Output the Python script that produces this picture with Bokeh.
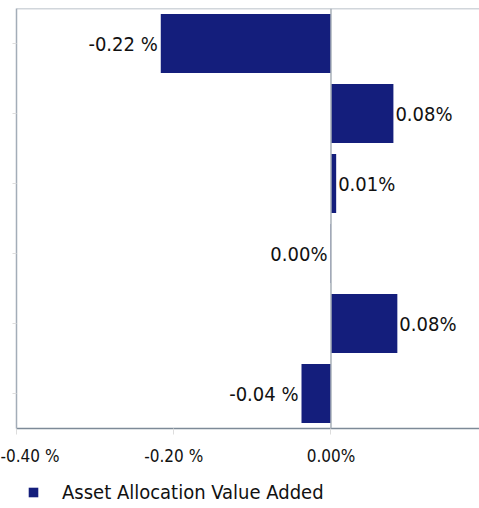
from bokeh.plotting import figure
from bokeh.layouts import column
from bokeh.models import (ColumnDataSource, FixedTicker, Range1d, Legend, LegendItem, Span)
from bokeh.embed import file_html
from bokeh.resources import INLINE
from bokeh.core.properties import value

# ---- data ----
rows = [0, 1, 2, 3, 4, 5]
values = [-0.2165, 0.0794, 0.0066, -0.0006, 0.0844, -0.0375]
bar_labels = ["-0.22 %", "0.08%", "0.01%", "0.00%", "0.08%", "-0.04 %"]
x_ticks = [-0.40, -0.20, 0.0, 0.20]
x_tick_labels = ["-0.40 %", "-0.20 %", "0.00%", "0.20%"]
series_name = "Asset Allocation Value Added"

FONT = "DejaVu Sans Condensed"
NAVY = "#141E7C"
FRAME = "#a3adb8"

src = ColumnDataSource(dict(
    y=rows,
    right=values,
    left=[0.0] * len(values),
    label=bar_labels,
    align=["left" if v >= 0 else "right" for v in values],
    xoff=[2 if v >= 0 else -3 for v in values],
))

y_top = -0.5
p = figure(width=479, height=470, output_backend="svg", toolbar_location=None,
           x_range=Range1d(-0.40, 0.1889), y_range=Range1d(5.5, y_top),
           min_border_left=16, min_border_right=0, min_border_top=8, min_border_bottom=42)
p.background_fill_color = "white"
p.border_fill_color = "white"
p.outline_line_color = None
p.xgrid.visible = False
p.ygrid.visible = False

r = p.hbar(y="y", left="left", right="right", height=0.84, source=src,
           fill_color=NAVY, line_color=None)

p.add_layout(Span(location=0, dimension="height", line_color="#a8b0b8", line_width=1.5))
p.add_layout(Span(location=y_top, dimension="width", line_color=FRAME, line_width=1.5))

p.text(x="right", y="y", text="label", text_align="align", x_offset="xoff",
       text_baseline="middle", source=src, text_font=value(FONT),
       text_font_size="20px", text_color="#111111")

xa = p.xaxis[0]
xa.ticker = FixedTicker(ticks=x_ticks)
xa.major_label_overrides = {t: l for t, l in zip(x_ticks, x_tick_labels)}
xa.major_label_text_font = FONT
xa.major_label_text_font_size = "17px"
xa.major_label_text_color = "#111111"
xa.axis_line_color = "#7d8a97"
xa.axis_line_width = 1.5
xa.major_tick_line_color = "#dddddd"
xa.major_tick_out = 6
xa.major_tick_in = 0
xa.minor_tick_line_color = None
xa.major_label_standoff = 11

ya = p.yaxis[0]
ya.ticker = FixedTicker(ticks=rows)
ya.major_label_overrides = {t: "" for t in rows}
ya.major_label_text_font_size = "1px"
ya.axis_line_color = FRAME
ya.axis_line_width = 1.5
ya.major_tick_line_color = "#dddddd"
ya.major_tick_out = 4
ya.major_tick_in = 0
ya.minor_tick_line_color = None
ya.major_label_standoff = 0

# legend strip below the chart (zero-width swatch bar, only shown in the legend)
lg = figure(width=479, height=38, output_backend="svg", toolbar_location=None,
            x_range=Range1d(0, 1), y_range=Range1d(0, 1),
            x_axis_location=None, y_axis_location=None,
            min_border_left=0, min_border_right=0, min_border_top=0, min_border_bottom=0)
lg.outline_line_color = None
lg.xgrid.visible = False
lg.ygrid.visible = False
swatch = ColumnDataSource(dict(y=[0.5], left=[0.0], right=[0.0]))
lr = lg.hbar(y="y", left="left", right="right", height=0.5, source=swatch,
             fill_color=NAVY, line_color=None)
legend = Legend(items=[LegendItem(label=series_name, renderers=[lr])],
                location=(11, 4), orientation="horizontal",
                glyph_width=12, glyph_height=12, label_standoff=23,
                label_text_font=FONT, label_text_font_size="20px",
                label_text_color="#111111", border_line_color=None,
                background_fill_alpha=0, padding=0, margin=0)
lg.add_layout(legend, "center")

layout = column(p, lg, spacing=0)
open("out.html", "w").write(file_html(layout, INLINE))
